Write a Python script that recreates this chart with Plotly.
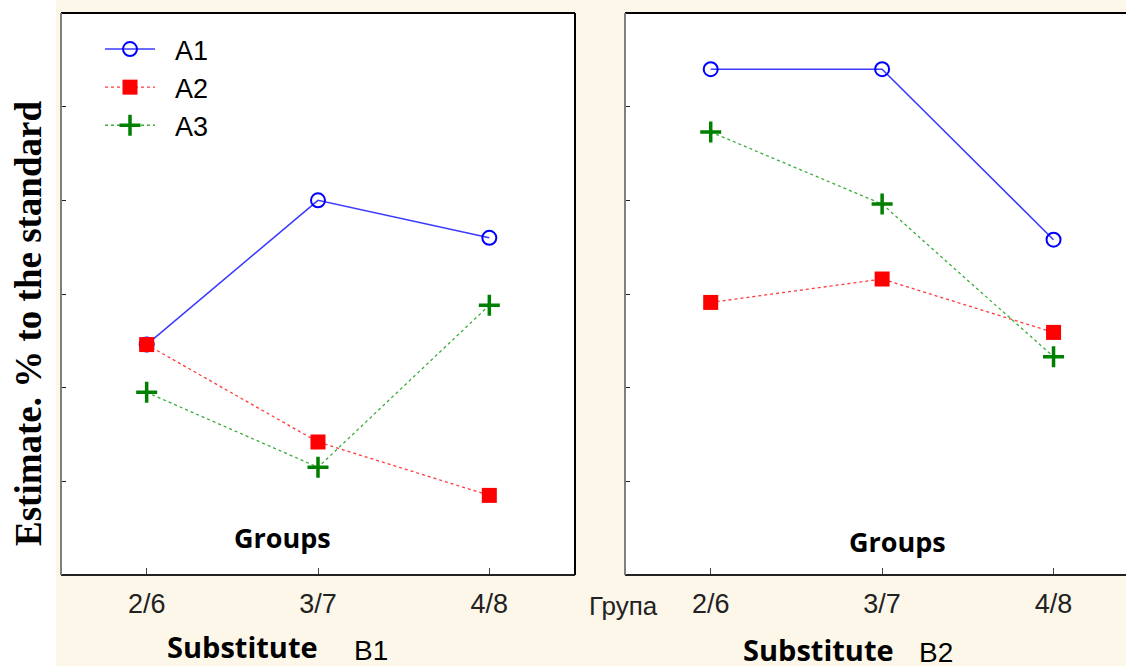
import plotly.graph_objects as go

# ---- data ----
groups = ["2/6", "3/7", "4/8"]
series_names = ["A1", "A2", "A3"]
b1_A1 = [2.46, 4.00, 3.60]
b1_A2 = [2.46, 1.42, 0.85]
b1_A3 = [1.95, 1.15, 2.88]
b2_A1 = [5.40, 5.40, 3.58]
b2_A2 = [2.91, 3.16, 2.59]
b2_A3 = [4.73, 3.96, 2.33]
y_ticks = [1, 2, 3, 4, 5]

W, H = 1126, 666
BG = "#FDF7EA"

styles = {
    "A1": dict(line=dict(color="#3a3aff", width=1.5, dash="solid"),
               marker=dict(symbol="circle-open", size=14, color="#0000ff",
                           line=dict(width=2, color="#0000ff"))),
    "A2": dict(line=dict(color="#ff3a3a", width=1.3, dash="3px,3px"),
               marker=dict(symbol="square", size=15, color="#ff0000",
                           line=dict(width=0))),
    "A3": dict(line=dict(color="#3aad3a", width=1.3, dash="dot"),
               marker=dict(symbol="cross-thin", size=15, color="#008000",
                           line=dict(width=3.5, color="#008000"))),
}

fig = go.Figure()
panels = [("x", "y", [b1_A1, b1_A2, b1_A3], True),
          ("x2", "y2", [b2_A1, b2_A2, b2_A3], False)]
for xa, ya, vals, show in panels:
    for name, v in zip(series_names, vals):
        fig.add_trace(go.Scatter(
            x=groups, y=v, name="\u00a0\u00a0" + name, mode="lines+markers",
            xaxis=xa, yaxis=ya, showlegend=show, **styles[name]))

def px_x(p):
    return p / W

def px_y(p):
    return 1 - p / H

y_dom = [px_y(575), px_y(13)]
common_x = dict(type="category", showgrid=False, zeroline=False, showline=False,
                ticks="inside", ticklen=7, tickcolor="#444", tickwidth=1,
                tickfont=dict(family="Liberation Sans", size=27, color="#222"),
                ticklabelstandoff=10)
common_y = dict(range=[0, 6], showgrid=False, zeroline=False, showline=False,
                ticks="inside", ticklen=5, tickcolor="#222", tickwidth=1,
                tickvals=y_ticks, showticklabels=False)

fig.update_layout(
    width=W, height=H, margin=dict(l=0, r=0, t=0, b=0),
    paper_bgcolor=BG, plot_bgcolor="white",
    xaxis=dict(domain=[px_x(61), px_x(575)], range=[-0.5, 2.5], anchor="y", **common_x),
    xaxis2=dict(domain=[px_x(625), 1.0], range=[-0.5, (1126 - 710.5) / 171.5],
                anchor="y2", **common_x),
    yaxis=dict(domain=y_dom, anchor="x", **common_y),
    yaxis2=dict(domain=y_dom, anchor="x2", **common_y),
    legend=dict(x=px_x(100), y=px_y(25), xanchor="left", yanchor="top",
                bgcolor="rgba(0,0,0,0)", font=dict(family="Liberation Sans", size=27, color="black"),
                itemwidth=50, tracegroupgap=0),
    showlegend=True,
)

shapes = [
    dict(type="rect", xref="paper", yref="paper", x0=0, x1=px_x(56), y0=0, y1=1,
         fillcolor="white", line=dict(width=0), layer="below"),
]
for xr, yr, right in [("x domain", "y domain", True), ("x2 domain", "y2 domain", False)]:
    shapes.append(dict(type="line", xref=xr, yref=yr, x0=0, x1=1, y0=1, y1=1,
                       line=dict(color="black", width=2)))
    shapes.append(dict(type="line", xref=xr, yref=yr, x0=0, x1=1, y0=0, y1=0,
                       line=dict(color="#222", width=2)))
    shapes.append(dict(type="line", xref=xr, yref=yr, x0=0, x1=0, y0=0, y1=1,
                       line=dict(color="#808080", width=2)))
    if right:
        shapes.append(dict(type="line", xref=xr, yref=yr, x0=1, x1=1, y0=0, y1=1,
                           line=dict(color="black", width=2)))
fig.update_layout(shapes=shapes)

groups_font = dict(family="Open Sans", size=27, color="black")
subst_font = dict(family="Open Sans", size=29, color="black")
reg_font = dict(family="Liberation Sans", size=28, color="black")
ann = [
    dict(text="<b>Estimate. % to the standard</b>", x=px_x(28), y=px_y(324),
         textangle=-90, font=dict(family="Liberation Serif", size=37, color="black")),
    dict(text="<b>Groups</b>", x=px_x(283), y=px_y(537), font=groups_font),
    dict(text="<b>Groups</b>", x=px_x(897), y=px_y(541), font=groups_font),
    dict(text="<b>Substitute</b>", x=px_x(242), y=px_y(646), font=subst_font),
    dict(text="B1", x=px_x(371), y=px_y(650), font=reg_font),
    dict(text="<b>Substitute</b>", x=px_x(818), y=px_y(649), font=subst_font),
    dict(text="B2", x=px_x(936), y=px_y(652), font=reg_font),
    dict(text="Група", x=px_x(623), y=px_y(606),
         font=dict(family="Liberation Sans", size=26, color="#222")),
]
for a in ann:
    a.update(xref="paper", yref="paper", showarrow=False, xanchor="center", yanchor="middle")
fig.update_layout(annotations=ann)

fig.write_html("out.html", config={"displayModeBar": False},
               post_script="document.body.style.margin='0';document.body.style.padding='0';"
                           "document.body.style.overflow='hidden';")
